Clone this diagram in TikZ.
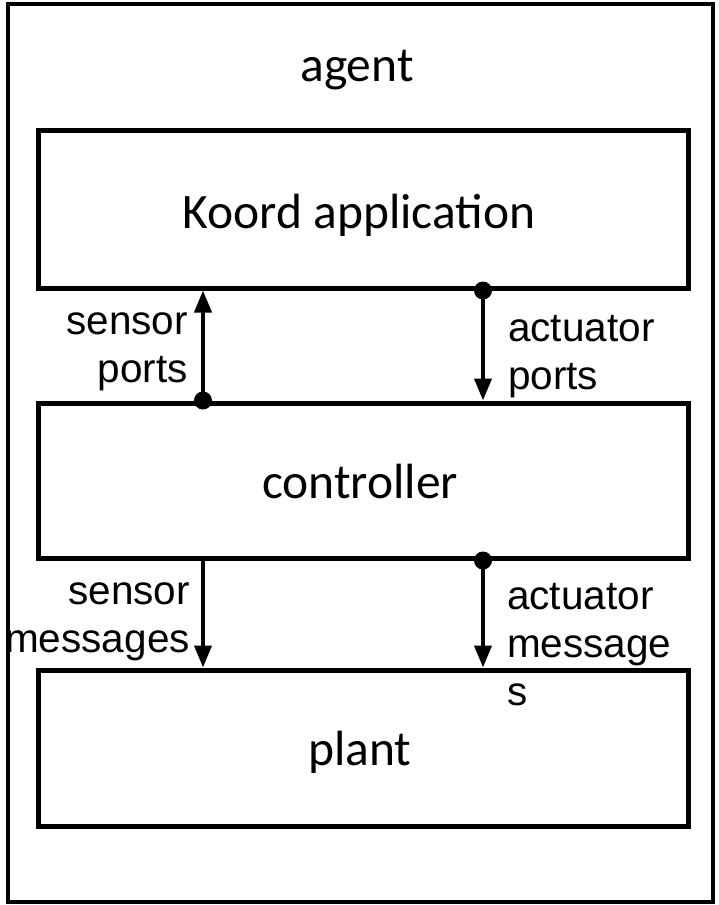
\documentclass[tikz,border=0pt]{standalone}
\usepackage{fontspec}
\setmainfont{Carlito}
\newfontfamily\labelfont{Liberation Sans}
\usetikzlibrary{arrows.meta}
\tikzset{
  box/.style={draw, line width=5pt, inner sep=0pt, minimum width=650pt},
  boxtext/.style={font=\fontsize{49.5}{59}\selectfont, anchor=base, inner sep=0pt},
  lbl/.style={font=\labelfont\fontsize{40.5}{48}\selectfont, inner sep=0pt},
  arr/.style={line width=4pt, -{Triangle[length=22pt,width=17pt]}},
  dot/.style={circle, fill=black, inner sep=0pt, minimum size=18pt},
}
\begin{document}
\begin{tikzpicture}[x=1pt,y=-1pt]
\useasboundingbox (0,0) rectangle (719,905);
% outer agent box
\node[draw, line width=4pt, minimum width=705pt, minimum height=898pt, inner sep=0pt] (agent) at (360,452.5) {};
\node[boxtext] (agentlbl) at (357,81) {agent};
% boxes
\node[box, minimum height=158pt] (koord) at (363,209) {};
\node[box, minimum height=155pt] (ctrl) at (363,480.5) {};
\node[box, minimum height=156pt] (plant) at (363,748) {};
\node[boxtext] (koordlbl) at (359,228) {Koord application};
\node[boxtext] (ctrllbl) at (360,498) {controller};
\node[boxtext] (plantlbl) at (360,765) {plant};
% columns
\coordinate (colL) at (203,0);
\coordinate (colR) at (483,0);
% upper arrows
\node[dot] (d1) at (ctrl.north -| colL) {};
\draw[arr] (d1.center) -- (koord.south -| colL);
\node[dot] (d2) at (koord.south -| colR) {};
\draw[arr] (d2.center) -- (ctrl.north -| colR);
% lower arrows
\draw[arr] (ctrl.south -| colL) -- (plant.north -| colL);
\node[dot] (d3) at (ctrl.south -| colR) {};
\draw[arr] (d3.center) -- (plant.north -| colR);
% labels
\node[lbl, align=right, anchor=base east] (sp) at (188,382) {sensor\\ports};
\node[lbl, align=left, anchor=base west] (ap) at (508,389) {actuator\\ports};
\node[lbl, align=right, anchor=base east] (sm) at (190,652) {sensor\\messages};
\node[lbl, align=left, anchor=base west] (am) at (507,705) {actuator\\message\\s};
\end{tikzpicture}
\end{document}
